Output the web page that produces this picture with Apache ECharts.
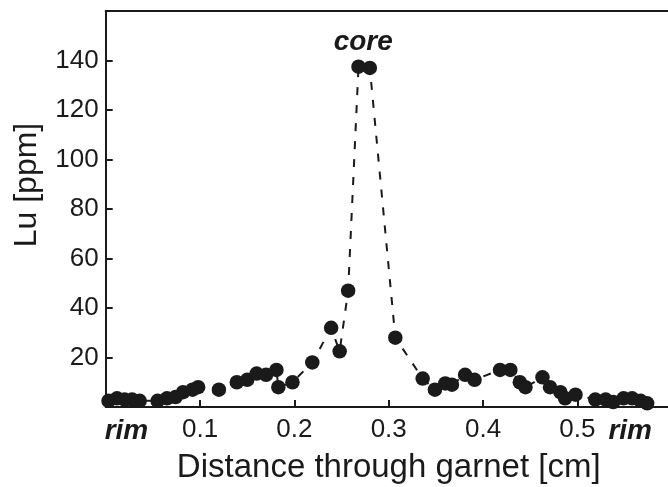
<!DOCTYPE html>
<html><head><meta charset="utf-8">
<script src="https://cdn.jsdelivr.net/npm/echarts@6/dist/echarts.min.js"></script>
<style>html,body{margin:0;padding:0;background:#fff}#c{width:668px;height:487px}</style>
</head><body><div id="c"></div>
<script>
var distance = [0.003,0.012,0.020,0.028,0.036,0.055,0.065,0.074,0.082,0.092,0.098,0.120,0.139,0.150,0.160,0.170,0.181,0.183,0.198,0.219,0.239,0.248,0.257,0.268,0.280,0.307,0.336,0.349,0.360,0.367,0.381,0.391,0.418,0.429,0.439,0.445,0.463,0.471,0.482,0.487,0.498,0.519,0.530,0.538,0.549,0.558,0.567,0.574];
var lu = [2.5,3.5,3,3,2.5,2.5,3.5,4,6,7,8,7,10,11,13.5,13,15,8,10,18,32,22.5,47,137.5,137,28,11.5,7,9.5,9,13,11,15,15,10,8,12,8,6,3.5,5,3,3,2,3.5,3.5,2.5,1.5];
var xTicks = [0.1,0.2,0.3,0.4,0.5];
var rimPos = [0.022,0.556];
var yTicks = [20,40,60,80,100,120,140];
var coreLabel = {x:0.273, y:147.5, text:'core'};

var ink = '#1a1a1a';
var font = 'Liberation Sans, Arial, sans-serif';
var chart = echarts.init(document.getElementById('c'), null, {renderer:'canvas'});
chart.setOption({
  animation:false,
  grid:{left:105.7, top:11, width:566, height:396, containLabel:false, outerBoundsMode:'none'},
  xAxis:[{
    type:'value', min:0, max:0.6, position:'bottom',
    name:'Distance through garnet [cm]', nameLocation:'middle', nameGap:44,
    nameTextStyle:{fontFamily:font, fontSize:33, color:ink},
    axisLine:{lineStyle:{color:ink, width:2}},
    axisTick:{inside:true, length:7, lineStyle:{color:ink, width:2}, customValues:xTicks},
    splitLine:{show:false},
    axisLabel:{customValues:xTicks.concat(rimPos), margin:10, fontFamily:font, fontSize:26, color:ink,
      formatter:function(v){ return rimPos.indexOf(v)>=0 ? '{r|rim}' : String(v); },
      rich:{r:{fontFamily:font, fontSize:28, fontWeight:'bold', fontStyle:'italic', color:ink}}}
  },{
    type:'value', min:0, max:0.6, position:'top',
    axisLine:{lineStyle:{color:ink, width:2}}, axisTick:{show:false}, axisLabel:{show:false}, splitLine:{show:false}
  }],
  yAxis:{
    type:'value', min:0, max:160, interval:20,
    name:'Lu [ppm]', nameLocation:'middle', nameGap:63,
    nameTextStyle:{fontFamily:font, fontSize:32, color:ink, padding:[0,0,0,48]},
    axisLine:{lineStyle:{color:ink, width:2}},
    axisTick:{inside:true, length:7, lineStyle:{color:ink, width:2}, customValues:yTicks},
    splitLine:{show:false},
    axisLabel:{customValues:yTicks, margin:7, fontFamily:font, fontSize:26, color:ink}
  },
  series:[{
    type:'line',
    data:distance.map(function(d,i){return [d, lu[i]];}),
    symbol:'circle', symbolSize:14.5,
    itemStyle:{color:ink},
    lineStyle:{color:ink, width:2, type:[8,10]},
    markPoint:{
      symbol:'circle', symbolSize:0,
      data:[{coord:[coreLabel.x, coreLabel.y], value:coreLabel.text}],
      label:{show:true, position:'inside', formatter:coreLabel.text, fontFamily:font, fontSize:28, fontWeight:'bold', fontStyle:'italic', color:ink}
    }
  }]
});
</script></body></html>
